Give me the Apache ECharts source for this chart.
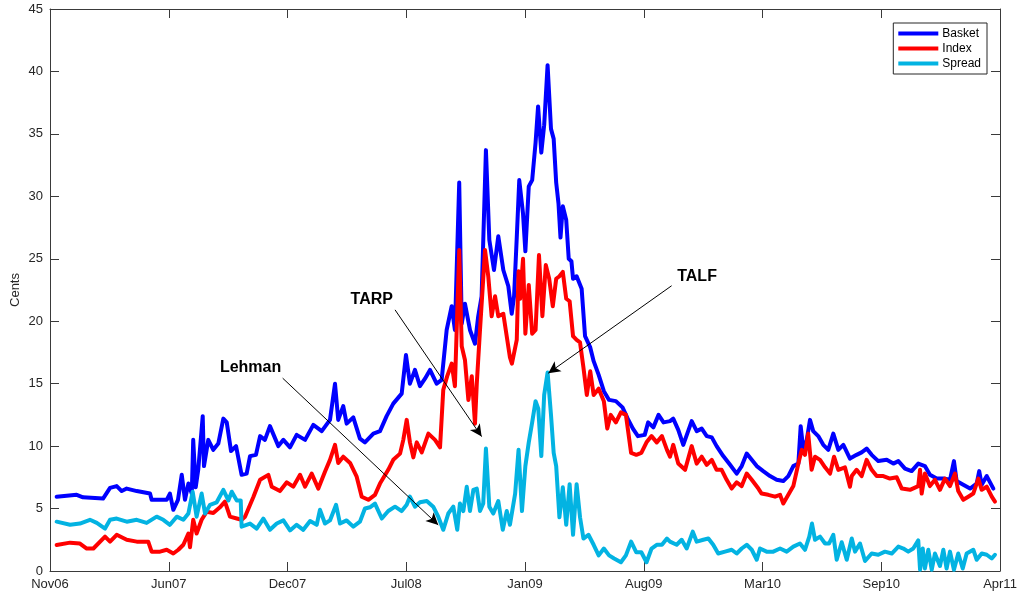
<!DOCTYPE html>
<html>
<head>
<meta charset="utf-8">
<script src="https://cdn.jsdelivr.net/npm/echarts@6/dist/echarts.min.js"></script>
<style>
html,body{margin:0;padding:0;background:#fff;}
#chart{width:1020px;height:596px;}
</style>
</head>
<body>
<div id="chart"></div>
<script>
// x values: months since Nov 2006
var tickLabels = ['Nov06','Jun07','Dec07','Jul08','Jan09','Aug09','Mar10','Sep10','Apr11'];

var basket = [
[0.37,5.95],[1.49,6.1],[1.84,5.9],[2.96,5.8],[3.35,6.65],[3.72,6.8],[4.00,6.4],[4.28,6.6],[4.84,6.4],[5.58,6.2],
[5.67,5.7],[6.51,5.7],[6.69,6.2],[6.88,4.9],[7.14,5.7],[7.35,7.7],[7.53,5.7],[7.72,7.0],[7.91,6.2],[7.99,10.5],
[8.13,6.7],[8.27,8.1],[8.52,12.4],[8.59,8.4],[8.83,10.5],[9.11,9.7],[9.39,10.2],[9.67,12.2],[9.86,11.9],[10.10,9.6],
[10.38,10.0],[10.69,7.7],[10.97,7.8],[11.16,9.2],[11.49,9.3],[11.72,10.8],[11.99,10.5],[12.27,11.6],[12.74,10.0],[13.02,10.5],
[13.39,9.9],[13.76,10.9],[14.23,10.5],[14.69,11.7],[15.16,11.2],[15.62,12.1],[15.90,15.0],[16.08,12.1],[16.36,13.2],[16.55,11.8],
[16.92,12.3],[17.29,10.6],[17.57,10.3],[18.04,11.0],[18.41,11.2],[18.78,12.4],[19.15,13.4],[19.62,14.2],[19.86,17.3],[20.08,15.0],
[20.36,16.1],[20.64,14.8],[20.92,15.4],[21.20,16.1],[21.57,15.0],[21.85,15.3],[22.13,19.3],[22.41,21.2],[22.59,19.3],[22.83,31.1],
[22.97,19.8],[23.15,21.4],[23.43,19.3],[23.71,18.2],[23.89,20.4],[24.08,22.0],[24.32,33.7],[24.51,26.5],[24.77,24.1],[25.01,26.8],
[25.29,24.1],[25.57,22.8],[25.76,20.6],[25.89,22.0],[26.04,26.7],[26.18,31.3],[26.39,28.6],[26.52,25.6],[26.71,30.8],[26.90,31.3],
[27.09,34.3],[27.23,37.2],[27.41,33.5],[27.57,35.7],[27.76,40.5],[27.95,35.4],[28.10,34.6],[28.24,31.1],[28.37,29.4],[28.48,26.7],
[28.61,29.2],[28.80,28.1],[28.94,25.0],[29.09,24.8],[29.18,23.4],[29.38,23.6],[29.66,22.6],[29.85,18.8],[30.14,17.9],[30.33,16.8],
[30.61,15.7],[30.90,14.4],[31.19,13.7],[31.57,13.6],[31.94,13.1],[32.23,12.2],[32.52,11.4],[32.80,10.8],[33.18,10.9],[33.37,11.9],
[33.66,11.5],[33.95,12.5],[34.23,11.9],[34.59,12.0],[34.77,12.2],[35.05,11.3],[35.33,10.1],[35.80,12.0],[36.08,11.2],[36.36,11.4],
[36.64,10.8],[36.92,10.7],[37.19,10.0],[37.56,9.2],[37.94,8.5],[38.31,7.8],[38.59,8.4],[38.87,9.4],[39.15,8.9],[39.43,8.4],
[39.79,8.0],[40.17,7.6],[40.54,7.3],[40.91,7.2],[41.19,7.6],[41.47,8.4],[41.75,8.6],[41.88,11.6],[42.03,9.7],[42.22,10.5],
[42.40,12.1],[42.58,11.2],[42.86,10.8],[43.14,10.1],[43.42,9.7],[43.70,11.0],[43.98,9.7],[44.26,10.1],[44.63,9.0],[45.00,9.3],
[45.28,9.5],[45.56,9.8],[45.84,9.3],[46.21,8.8],[46.68,8.9],[47.05,8.6],[47.33,8.8],[47.70,8.2],[48.07,8.0],[48.44,8.6],
[48.81,8.4],[49.09,7.7],[49.47,7.4],[49.84,7.4],[50.21,7.3],[50.43,8.8],[50.58,7.2],[50.95,6.9],[51.33,6.6],[51.70,7.0],
[51.84,8.0],[51.98,6.9],[52.26,7.6],[52.63,6.6]
];

var index = [
[0.37,2.08],[1.12,2.27],[1.67,2.2],[2.05,1.8],[2.42,1.8],[3.07,2.75],[3.35,2.35],[3.72,2.9],[4.28,2.5],[4.84,2.35],
[5.48,2.35],[5.67,1.55],[6.14,1.55],[6.51,1.7],[6.88,1.4],[7.16,1.7],[7.44,2.1],[7.72,3.0],[7.81,1.9],[7.99,4.1],
[8.18,3.0],[8.46,4.1],[8.74,4.75],[9.11,4.65],[9.48,5.1],[9.76,5.55],[10.04,4.35],[10.42,4.2],[10.69,4.1],[10.88,4.35],
[11.34,5.9],[11.72,7.3],[12.18,7.7],[12.37,6.75],[12.83,6.4],[13.21,7.1],[13.57,6.75],[13.95,7.7],[14.23,6.75],[14.60,7.8],
[14.97,6.6],[15.34,7.95],[15.62,8.9],[15.90,10.1],[16.08,8.65],[16.36,9.15],[16.74,8.65],[17.11,7.55],[17.39,5.95],[17.76,5.7],
[18.13,6.1],[18.41,7.0],[18.87,8.1],[19.15,8.9],[19.53,9.4],[19.71,10.5],[19.90,12.1],[20.08,10.3],[20.27,9.1],[20.46,10.3],
[20.74,9.5],[21.11,11.0],[21.48,10.5],[21.76,9.9],[21.94,14.5],[22.16,15.6],[22.41,16.6],[22.59,14.8],[22.83,25.7],[22.97,18.0],
[23.15,16.9],[23.34,13.7],[23.53,15.6],[23.71,11.8],[23.81,15.0],[23.99,19.3],[24.27,25.7],[24.45,23.6],[24.64,20.4],[24.83,22.0],
[25.01,20.4],[25.29,20.6],[25.48,18.8],[25.66,17.1],[25.77,16.6],[26.04,18.5],[26.14,24.0],[26.23,21.8],[26.39,25.0],[26.52,19.0],
[26.71,22.9],[26.90,19.0],[27.09,19.3],[27.28,25.3],[27.47,20.4],[27.66,24.5],[27.85,23.4],[28.05,21.2],[28.24,23.4],[28.42,23.6],
[28.61,23.95],[28.80,21.8],[28.99,21.6],[29.18,18.8],[29.38,18.5],[29.57,18.3],[29.76,16.3],[29.95,14.1],[30.14,16.0],[30.33,14.1],
[30.61,14.6],[30.90,13.6],[31.09,11.4],[31.28,12.5],[31.57,11.9],[31.85,12.7],[32.13,12.5],[32.42,9.45],[32.71,9.3],[32.99,9.45],
[33.28,10.3],[33.56,10.8],[33.85,10.3],[34.14,10.8],[34.42,9.7],[34.59,9.15],[34.77,10.1],[35.05,8.6],[35.43,8.1],[35.80,10.0],
[36.08,8.6],[36.36,9.15],[36.64,8.5],[36.92,8.9],[37.19,8.1],[37.47,8.1],[37.75,7.3],[38.03,6.6],[38.31,7.1],[38.59,6.8],
[38.87,7.8],[39.15,7.3],[39.52,6.6],[39.70,6.2],[40.07,6.1],[40.45,5.95],[40.73,6.1],[40.91,5.4],[41.19,6.1],[41.47,6.8],
[41.75,8.6],[41.94,9.7],[42.12,9.3],[42.30,11.0],[42.49,8.1],[42.68,9.15],[42.96,8.9],[43.24,8.3],[43.52,7.8],[43.74,9.15],
[43.98,8.1],[44.35,8.3],[44.63,6.75],[44.73,7.6],[45.00,8.1],[45.28,7.6],[45.56,8.9],[45.84,8.1],[46.12,7.6],[46.49,7.6],
[46.86,7.4],[47.24,7.5],[47.52,6.6],[47.98,6.5],[48.44,6.8],[48.54,8.1],[48.63,6.2],[48.81,7.8],[49.09,6.8],[49.37,7.3],
[49.65,6.5],[49.93,7.4],[50.21,6.8],[50.49,7.8],[50.67,6.4],[50.95,5.7],[51.23,5.95],[51.51,6.2],[51.79,7.4],[51.98,6.5],
[52.26,6.75],[52.54,5.95],[52.72,5.55]
];

var spread = [
[0.37,3.95],[1.12,3.7],[1.67,3.8],[2.23,4.1],[2.61,3.85],[3.07,3.4],[3.35,4.1],[3.72,4.2],[4.28,3.95],[4.84,4.1],
[5.39,3.85],[5.95,4.35],[6.32,4.1],[6.69,3.7],[7.07,4.35],[7.44,4.1],[7.72,4.6],[7.96,6.35],[8.18,4.35],[8.46,6.2],
[8.65,4.6],[8.93,5.3],[9.30,5.5],[9.67,6.5],[9.95,5.65],[10.14,6.35],[10.42,5.65],[10.64,5.65],[10.69,3.55],[11.16,3.8],
[11.53,3.4],[11.90,4.2],[12.27,3.3],[12.65,3.8],[13.02,4.05],[13.39,3.25],[13.76,3.7],[14.13,3.3],[14.51,4.0],[14.88,3.7],
[15.06,4.9],[15.34,3.8],[15.62,4.05],[15.96,5.3],[16.18,3.8],[16.55,4.05],[16.92,3.55],[17.29,3.95],[17.57,5.0],[17.85,5.1],
[18.13,5.4],[18.51,4.2],[18.87,4.8],[19.25,5.15],[19.62,4.8],[19.90,5.3],[20.08,5.95],[20.36,5.15],[20.64,5.5],[21.02,5.6],
[21.38,5.15],[21.66,4.35],[21.94,3.3],[22.22,4.6],[22.50,5.15],[22.72,3.3],[22.87,5.4],[23.06,4.8],[23.25,6.75],[23.43,4.8],
[23.62,6.5],[23.81,6.6],[23.99,4.8],[24.17,5.4],[24.32,9.8],[24.51,5.15],[24.73,4.6],[25.01,5.6],[25.26,3.3],[25.48,4.8],
[25.66,3.7],[25.95,6.2],[26.14,9.7],[26.33,4.8],[26.52,8.4],[26.71,10.3],[26.90,11.9],[27.09,13.6],[27.24,13.0],[27.41,9.2],
[27.57,14.1],[27.76,15.9],[27.95,12.5],[28.10,9.45],[28.24,8.4],[28.42,4.3],[28.61,6.7],[28.80,3.7],[28.99,6.95],[29.18,2.9],
[29.38,6.95],[29.57,4.3],[29.76,2.6],[30.04,2.9],[30.33,2.1],[30.61,1.25],[30.90,1.8],[31.19,1.25],[31.47,1.0],[31.85,0.7],
[32.13,1.25],[32.42,2.35],[32.71,1.5],[32.99,1.5],[33.28,0.7],[33.56,1.8],[33.85,2.1],[34.14,2.1],[34.42,2.6],[34.59,2.35],
[34.96,2.1],[35.24,2.5],[35.52,1.8],[35.86,3.15],[36.08,2.35],[36.45,2.5],[36.73,2.6],[37.00,2.1],[37.28,1.4],[37.66,1.55],
[38.03,1.7],[38.31,1.4],[38.59,1.8],[38.87,2.1],[39.15,1.7],[39.43,0.9],[39.61,1.8],[39.98,1.55],[40.35,1.55],[40.73,1.8],
[41.10,1.55],[41.47,1.95],[41.84,2.2],[42.12,1.7],[42.36,2.75],[42.51,3.8],[42.68,2.5],[42.96,2.75],[43.24,2.2],[43.46,2.2],
[43.70,2.9],[43.89,0.9],[44.17,2.3],[44.45,0.9],[44.73,2.6],[44.91,1.55],[45.19,2.2],[45.47,0.8],[45.84,1.4],[46.21,1.3],
[46.58,1.55],[46.96,1.4],[47.33,1.95],[47.61,1.8],[47.88,1.55],[48.16,1.8],[48.44,2.45],[48.54,0.1],[48.69,1.8],[48.81,0.2],
[49.00,1.7],[49.19,0.1],[49.37,1.4],[49.65,0.4],[49.84,1.7],[50.02,0.2],[50.21,1.55],[50.43,0.1],[50.67,1.4],[50.92,0.2],
[51.14,1.4],[51.51,1.7],[51.70,0.9],[51.98,1.4],[52.26,1.3],[52.54,1.0],[52.72,1.3]
];

// annotations: [label, labelX, labelY, arrowStartX, arrowStartY, arrowEndX, arrowEndY] in data units
var events = [
['Lehman', 11.19, 16.27, 12.98, 15.44, 21.66, 3.69],
['TARP', 17.95, 21.71, 19.25, 20.91, 24.08, 10.76],
['TALF', 36.10, 23.56, 34.68, 22.84, 27.80, 15.84]
];

var X_MAX = 53, X_STEP = 53 / 8;
var axisColor = '#3a3a3a';
var font = '"Liberation Sans", Arial, Helvetica, sans-serif';

var chart = echarts.init(document.getElementById('chart'), null, {renderer: 'canvas'});

function lineSeries(name, data, color) {
  return {
    name: name, type: 'line', data: data, showSymbol: false, symbol: 'none',
    lineStyle: {color: color, width: 4, cap: 'round', join: 'round'},
    itemStyle: {color: color}, animation: false, z: 2
  };
}

var arrowData = events.map(function (e) {
  return [{coord: [e[3], e[4]], symbol: 'none'}, {coord: [e[5], e[6]], symbol: 'arrow'}];
});
var labelData = events.map(function (e) {
  return {name: e[0], coord: [e[1], e[2]]};
});

var sSpread = lineSeries('Spread', spread, '#03b3e2');
sSpread.markLine = {
  silent: true, animation: false, symbol: ['none', 'arrow'], symbolSize: [9, 12],
  lineStyle: {color: '#000', width: 1, type: 'solid'}, label: {show: false},
  data: arrowData
};
sSpread.markPoint = {
  silent: true, animation: false, symbol: 'circle', symbolSize: 1,
  itemStyle: {color: 'rgba(0,0,0,0)'},
  label: {show: true, position: 'inside', formatter: '{b}', color: '#000',
    fontWeight: 'bold', fontSize: 16, fontFamily: font},
  data: labelData
};

var option = {
  backgroundColor: '#ffffff',
  animation: false,
  grid: {left: 50, right: 20, top: 9, bottom: 25, containLabel: false, outerBoundsMode: 'none'},
  legend: {
    orient: 'vertical', right: 33, top: 23,
    data: ['Basket', 'Index', 'Spread'],
    icon: 'rect', itemWidth: 40, itemHeight: 4, itemGap: 2,
    padding: [4, 6, 4, 5], borderColor: '#262626', borderWidth: 1, borderRadius: 0,
    backgroundColor: '#fff',
    textStyle: {fontSize: 12, color: '#000', fontFamily: font, lineHeight: 13, padding: [0, 0, 0, -1]}
  },
  xAxis: [{
    type: 'value', min: 0, max: X_MAX, interval: X_STEP, position: 'bottom',
    axisLine: {show: true, onZero: false, lineStyle: {color: axisColor, width: 1}},
    axisTick: {show: true, inside: true, length: 9, lineStyle: {color: axisColor}},
    axisLabel: {show: true, margin: 7, fontSize: 13, color: '#262626', fontFamily: font,
      formatter: function (v) { var i = Math.round(v / X_STEP); return tickLabels[i] || ''; }},
    splitLine: {show: false}
  }, {
    type: 'value', min: 0, max: X_MAX, interval: X_STEP, position: 'top',
    axisLine: {show: true, onZero: false, lineStyle: {color: axisColor, width: 1}},
    axisTick: {show: true, inside: true, length: 9, lineStyle: {color: axisColor}},
    axisLabel: {show: false}, splitLine: {show: false}
  }],
  yAxis: [{
    type: 'value', min: 0, max: 45, interval: 5, position: 'left',
    name: 'Cents', nameLocation: 'middle', nameGap: 28, nameRotate: 90, nameMoveOverlap: false,
    nameTextStyle: {fontSize: 13, color: '#262626', fontFamily: font},
    axisLine: {show: true, onZero: false, lineStyle: {color: axisColor, width: 1}},
    axisTick: {show: true, inside: true, length: 9, lineStyle: {color: axisColor}},
    axisLabel: {show: true, margin: 7, fontSize: 13, color: '#262626', fontFamily: font},
    splitLine: {show: false}
  }, {
    type: 'value', min: 0, max: 45, interval: 5, position: 'right',
    axisLine: {show: true, onZero: false, lineStyle: {color: axisColor, width: 1}},
    axisTick: {show: true, inside: true, length: 9, lineStyle: {color: axisColor}},
    axisLabel: {show: false}, splitLine: {show: false}
  }],
  series: [
    lineSeries('Basket', basket, '#0000ff'),
    lineSeries('Index', index, '#ff0000'),
    sSpread
  ]
};
chart.setOption(option);
</script>
</body>
</html>
